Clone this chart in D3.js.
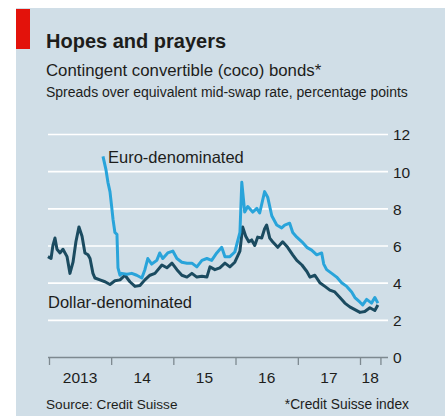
<!DOCTYPE html>
<html>
<head>
<meta charset="utf-8">
<script src="https://cdn.jsdelivr.net/npm/d3@7"></script>
<style>
  body { margin: 0; background: #fff; }
  text { font-family: 'Liberation Sans', Arial, sans-serif; fill: #1d1d1b; }
</style>
</head>
<body>
<div id="chart"></div>
<script>
// Dollar-denominated coco spreads, percentage points
const dollarDates = [
  '2012-12-26', '2013-01-13', '2013-01-24', '2013-02-05', '2013-02-17', '2013-03-07', '2013-03-24',
  '2013-04-17', '2013-05-04', '2013-05-22', '2013-06-08', '2013-06-26', '2013-07-14', '2013-07-31',
  '2013-08-18', '2013-08-30', '2013-09-16', '2013-09-28', '2013-10-27', '2013-11-26', '2013-12-25',
  '2014-01-23', '2014-02-22', '2014-03-23', '2014-04-21', '2014-05-21', '2014-06-19', '2014-07-18',
  '2014-08-17', '2014-09-15', '2014-10-26', '2014-11-24', '2014-12-24', '2015-01-22', '2015-02-20',
  '2015-03-22', '2015-04-20', '2015-05-19', '2015-06-18', '2015-07-17', '2015-08-04', '2015-09-02',
  '2015-10-01', '2015-10-31', '2015-11-29', '2015-12-28', '2016-01-27', '2016-02-12', '2016-03-01',
  '2016-03-19', '2016-04-05', '2016-04-23', '2016-05-10', '2016-06-03', '2016-06-20', '2016-07-02',
  '2016-07-20', '2016-08-06', '2016-09-05', '2016-10-04', '2016-11-02', '2016-12-02', '2016-12-26',
  '2017-01-25', '2017-02-23', '2017-03-13', '2017-04-11', '2017-05-10', '2017-06-09', '2017-07-08',
  '2017-08-06', '2017-09-05', '2017-10-04', '2017-11-02', '2017-12-02', '2018-01-01', '2018-01-29',
  '2018-02-28', '2018-03-29', '2018-04-16',
];
const dollarValues = [
  5.4, 5.3, 6.0, 6.4, 5.8, 5.6, 5.8,
  5.4, 4.5, 5.1, 6.2, 7.0, 6.5, 5.6,
  5.5, 5.3, 4.5, 4.25, 4.15, 4.05, 3.9,
  4.1, 4.15, 4.4, 4.05, 3.8, 3.85, 4.15,
  4.4, 4.5, 4.95, 4.8, 5.05, 4.7, 4.4,
  4.3, 4.5, 4.3, 4.35, 4.3, 4.85, 4.7,
  4.8, 5.05, 4.85, 5.1, 5.7, 7.0, 6.5,
  6.2, 6.3, 6.0, 6.45, 6.4, 6.9, 7.1,
  6.4, 6.2, 5.9, 6.2, 5.9, 5.5, 5.2,
  4.95, 4.6, 4.3, 4.4, 4.0, 3.8, 3.6,
  3.5, 3.2, 2.9, 2.7, 2.55, 2.4, 2.45,
  2.65, 2.5, 2.8,
];

// Euro-denominated coco spreads, percentage points
const euroDates = [
  '2013-11-14', '2013-12-01', '2013-12-13', '2013-12-25', '2014-01-05', '2014-01-12', '2014-01-23',
  '2014-02-04', '2014-02-10', '2014-02-22', '2014-03-04', '2014-04-03', '2014-05-02', '2014-05-31',
  '2014-06-30', '2014-07-18', '2014-08-04', '2014-08-27', '2014-09-26', '2014-10-13', '2014-10-31',
  '2014-11-29', '2014-12-29', '2015-01-22', '2015-02-20', '2015-03-22', '2015-04-20', '2015-05-19',
  '2015-06-18', '2015-07-17', '2015-08-14', '2015-09-13', '2015-10-12', '2015-10-31', '2015-11-29',
  '2015-12-28', '2016-01-27', '2016-02-07', '2016-02-24', '2016-03-13', '2016-04-11', '2016-05-05',
  '2016-05-22', '2016-06-20', '2016-07-08', '2016-08-01', '2016-08-30', '2016-09-28', '2016-10-16',
  '2016-11-14', '2016-12-02', '2016-12-26', '2017-01-25', '2017-02-23', '2017-03-23', '2017-04-22',
  '2017-05-21', '2017-06-02', '2017-06-19', '2017-07-19', '2017-08-17', '2017-09-15', '2017-10-15',
  '2017-11-13', '2017-12-02', '2018-01-01', '2018-01-17', '2018-02-09', '2018-03-10', '2018-03-29',
  '2018-04-16',
];
const euroValues = [
  10.8, 10.1, 9.4, 8.9, 8.0, 7.4, 6.7,
  6.6, 4.8, 4.4, 4.5, 4.45, 4.5, 4.4,
  4.25, 4.7, 5.3, 5.0, 5.2, 5.6, 5.3,
  5.6, 5.7, 5.3, 5.1, 5.05, 5.05, 4.85,
  5.2, 5.3, 5.2, 5.6, 5.9, 5.4, 5.4,
  5.65, 6.7, 9.4, 7.8, 8.1, 7.8, 8.0,
  7.75, 8.9, 8.6, 7.6, 7.1, 6.95, 7.1,
  7.2, 6.7, 6.45, 6.2, 5.9, 5.75, 5.5,
  5.6, 5.0, 4.7, 4.5, 4.3, 4.0, 3.8,
  3.5, 3.2, 2.95, 2.8, 3.1, 2.9, 3.2,
  2.9,
];

const yTicks = [0, 2, 4, 6, 8, 10, 12];
const yearTicks = ['2013-01-01', '2014-01-01', '2015-01-01', '2016-01-01', '2017-01-01', '2018-01-01', '2018-05-01'];
const yearLabels = ['2013', '14', '15', '16', '17', '18'];

const width = 445;
const height = 416;
const colors = {
  panel: '#d0dee7',
  red: '#e3120b',
  euro: '#29a4da',
  dollar: '#1b4b60',
  axis: '#7d8990',
};

const parse = d3.timeParse('%Y-%m-%d');

const svg = d3.select('#chart')
  .append('svg')
  .attr('width', width)
  .attr('height', height);

svg.append('rect')
  .attr('x', 16).attr('y', 8)
  .attr('width', width - 16).attr('height', height - 8)
  .attr('fill', colors.panel);

svg.append('rect')
  .attr('x', 16).attr('y', 9)
  .attr('width', 14).attr('height', 40)
  .attr('fill', colors.red);

svg.append('text')
  .attr('x', 46).attr('y', 48)
  .attr('font-size', 20)
  .attr('font-weight', 'bold')
  .text('Hopes and prayers');

svg.append('text')
  .attr('x', 46).attr('y', 76)
  .attr('font-size', 16.8)
  .text('Contingent convertible (coco) bonds*');

svg.append('text')
  .attr('x', 46).attr('y', 97)
  .attr('font-size', 14)
  .text('Spreads over equivalent mid-swap rate, percentage points');

const x = d3.scaleTime([parse('2013-01-01'), parse('2018-01-01')], [49, 360]);
const y = d3.scaleLinear([0, 12], [357, 134]);
const plotLeft = 48;
const plotRight = 388;

// horizontal gridlines + right-hand labels
const yAxis = svg.append('g')
  .attr('transform', `translate(${plotRight},0)`)
  .call(d3.axisRight(y).tickValues(yTicks).tickSize(-(plotRight - plotLeft)).tickPadding(5));
yAxis.select('.domain').remove();
yAxis.selectAll('line')
  .attr('stroke', (d) => (d === 0 ? colors.axis : '#ffffff'))
  .attr('stroke-width', (d) => (d === 0 ? 1.3 : 1.6));
yAxis.selectAll('text')
  .attr('font-size', 15.5)
  .attr('dy', '0.38em')
  .style('font-family', "'Liberation Sans', Arial, sans-serif")
  .attr('fill', '#1d1d1b');

// year ticks hanging below the zero line
const xAxis = svg.append('g')
  .attr('transform', `translate(0,${y(0)})`)
  .call(d3.axisBottom(x).tickValues(yearTicks.map(parse)).tickSize(8).tickFormat(''));
xAxis.select('.domain').remove();
xAxis.selectAll('line').attr('stroke', colors.axis).attr('stroke-width', 1.3);

// year labels centred between ticks
const tickDates = yearTicks.map(parse);
svg.append('g')
  .selectAll('text')
  .data(yearLabels)
  .join('text')
  .attr('x', (d, i) => (x(tickDates[i]) + x(tickDates[i + 1])) / 2)
  .attr('y', 383)
  .attr('text-anchor', 'middle')
  .attr('font-size', 15.5)
  .text((d) => d);

const line = d3.line()
  .x((d) => x(d[0]))
  .y((d) => y(d[1]))
  .curve(d3.curveLinear);

const dollar = dollarDates.map((d, i) => [parse(d), dollarValues[i]]);
const euro = euroDates.map((d, i) => [parse(d), euroValues[i]]);

svg.append('path')
  .datum(dollar)
  .attr('fill', 'none')
  .attr('stroke', colors.dollar)
  .attr('stroke-width', 3)
  .attr('stroke-linejoin', 'round')
  .attr('d', line);

svg.append('path')
  .datum(euro)
  .attr('fill', 'none')
  .attr('stroke', colors.euro)
  .attr('stroke-width', 3)
  .attr('stroke-linejoin', 'round')
  .attr('d', line);

svg.append('text')
  .attr('x', 108).attr('y', 163)
  .attr('font-size', 16.5)
  .text('Euro-denominated');

svg.append('text')
  .attr('x', 48).attr('y', 308)
  .attr('font-size', 16.5)
  .text('Dollar-denominated');

svg.append('text')
  .attr('x', 46).attr('y', 409)
  .attr('font-size', 13.6)
  .text('Source: Credit Suisse');

svg.append('text')
  .attr('x', 409).attr('y', 409)
  .attr('text-anchor', 'end')
  .attr('font-size', 13.8)
  .text('*Credit Suisse index');
</script>
</body>
</html>
